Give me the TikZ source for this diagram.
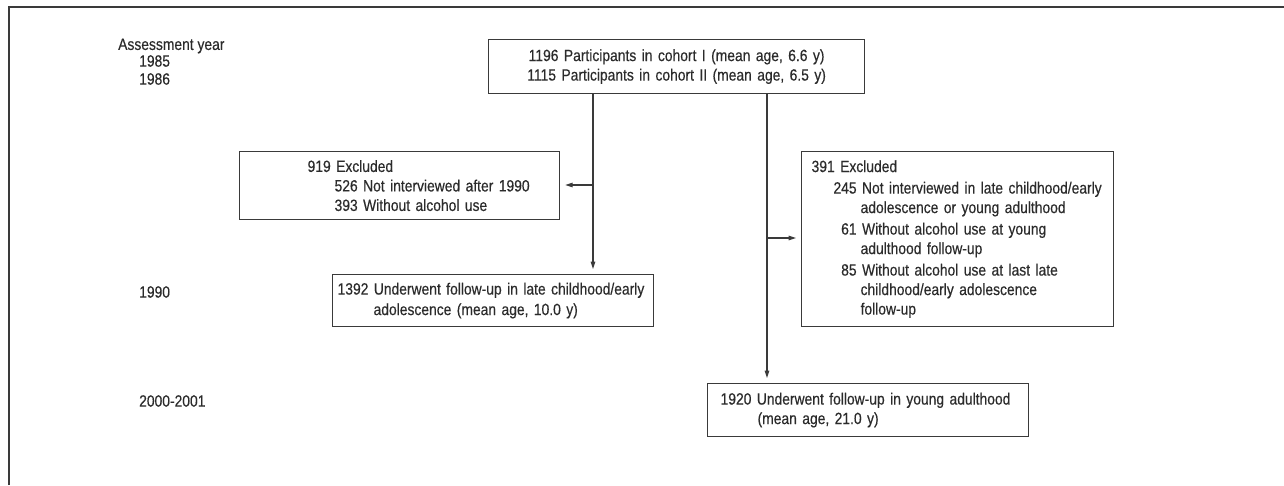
\documentclass[tikz,border=0pt]{standalone}
\usepackage{fontspec}
\setmainfont{Liberation Sans}[FakeStretch=0.85, FakeBold=0.4]
\usepackage{tikz}
\usetikzlibrary{arrows.meta}

\definecolor{ink}{HTML}{2B2B2B}
\definecolor{rule}{HTML}{3A3A3A}
\newcommand{\ind}[1]{\hspace*{#1pt}}
\newcommand{\nr}[1]{\makebox[24pt][r]{#1}}

\tikzset{
  box/.style={draw=rule, line width=1.2pt, anchor=north west, inner xsep=0pt, inner ysep=0pt, align=left},
  yr/.style={anchor=west, inner sep=0pt},
}

\begin{document}
\begin{tikzpicture}[x=1pt, y=-1pt, > = {Triangle[length=7.5pt,width=4.5pt]},
  font=\fontsize{16.3}{19.5}\selectfont, text=ink]
\useasboundingbox (0,0) rectangle (1284,485);
\draw[rule, line width=1.5pt] (9,485) -- (9,7) -- (1284,7);

% assessment years
\node[yr] (ay) at (118,46) {Assessment year};
\node[yr] (y85) at (139,61) {1985};
\node[yr] (y86) at (139,79) {1986};
\node[yr] (y90) at (139,292) {1990};
\node[yr] (y00) at (139,401) {2000-2001};

% boxes
\node[box, align=center, text width=376pt, minimum height=54pt] (cohort) at (488,39)
  {1196 Participants in cohort I (mean age, 6.6 y)\\
   1115 Participants in cohort II (mean age, 6.5 y)};

\node[box, text width=320pt, minimum height=68pt] (excl1) at (239,151)
  {\ind{68}919 Excluded\\
   \ind{95}526 Not interviewed after 1990\\
   \ind{95}393 Without alcohol use};

\node[box, text width=321pt, minimum height=52pt] (fu1) at (332,274)
  {\ind{5}1392 Underwent follow-up in late childhood/early\\[1pt]
   \ind{41}adolescence (mean age, 10.0 y)};

\node[box, text width=312pt, minimum height=175pt] (excl2) at (801,151)
  {\ind{10}391 Excluded\\[2pt]
   \ind{31}\nr{245} Not interviewed in late childhood/early\\
   \ind{59}adolescence or young adulthood\\[2pt]
   \ind{31}\nr{61} Without alcohol use at young\\
   \ind{59}adulthood follow-up\\[2pt]
   \ind{31}\nr{85} Without alcohol use at last late\\
   \ind{59}childhood/early adolescence\\
   \ind{59}follow-up};

\node[box, text width=321pt, minimum height=53pt] (fu2) at (707,383)
  {\ind{13}1920 Underwent follow-up in young adulthood\\
   \ind{50}(mean age, 21.0 y)};

% connectors
\coordinate (lsplit) at (593,185);
\coordinate (rsplit) at (767,238);
\draw[rule, line width=1.2pt, ->, shorten >=5pt] (cohort.south -| lsplit) -- (fu1.north -| lsplit);
\draw[rule, line width=1.2pt, ->, shorten >=5pt] (lsplit) -- (excl1.east |- lsplit);
\draw[rule, line width=1.2pt, ->, shorten >=5pt] (cohort.south -| rsplit) -- (fu2.north -| rsplit);
\draw[rule, line width=1.2pt, ->, shorten >=5pt] (rsplit) -- (excl2.west |- rsplit);
\end{tikzpicture}
\end{document}
